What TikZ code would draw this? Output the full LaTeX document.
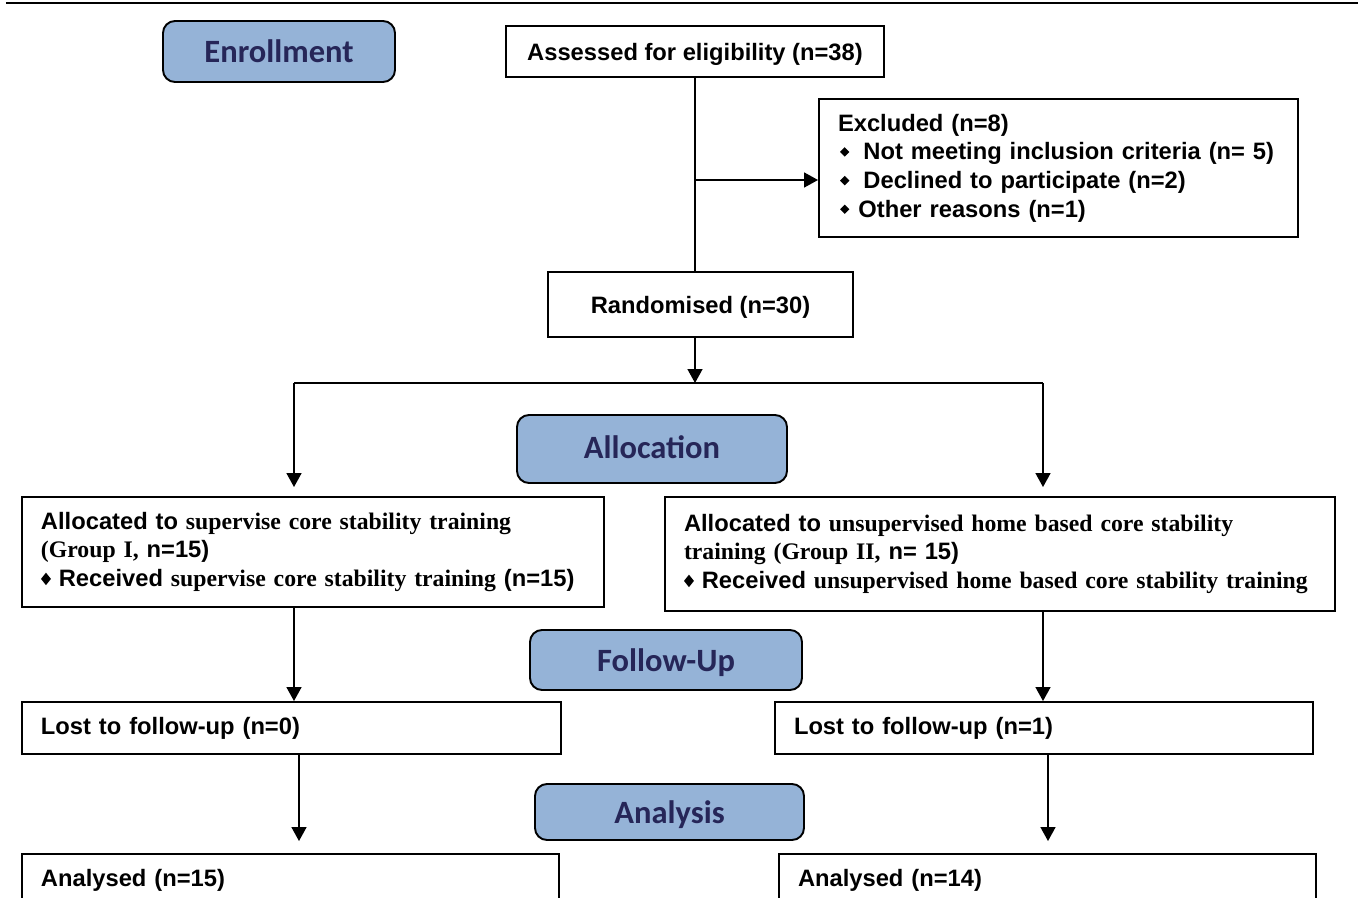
\documentclass[tikz,border=0pt]{standalone}
\usepackage{fontspec}
\setmainfont{Liberation Sans}
\newfontfamily\serifpart{Liberation Serif}
\newfontfamily\stagefont{Carlito}
\usetikzlibrary{arrows.meta}
\definecolor{stagefill}{RGB}{149,179,215}
\definecolor{stagetext}{RGB}{38,38,88}
\newcommand{\dmd}[3]{\raisebox{#3}{\scalebox{1}[#2]{\rotatebox{45}{\rule{#1}{#1}}}}}

\begin{document}
\begin{tikzpicture}[
  box/.style={draw, line width=1.1pt, align=left, inner xsep=0.38cm,
    font=\fontsize{13.5}{16.3}\selectfont\bfseries},
  stage/.style={draw, line width=1.1pt, rounded corners=0.24cm, fill=stagefill,
    text=stagetext, text depth=0pt, font=\fontsize{18.5}{22}\selectfont\stagefont\bfseries},
  arr/.style={-{Triangle[length=0.28cm,width=0.30cm]}, line width=0.9pt},
  ln/.style={line width=0.9pt}]
\useasboundingbox (0,0) rectangle (27.16,-17.96);
\draw[line width=1.4pt] (0.12,-0.06) -- (27.16,-0.06);

\node[stage, minimum width=4.64cm, minimum height=1.22cm] (enrol) at (5.58,-1.03) {Enrollment};
\node[stage, minimum width=5.40cm, minimum height=1.36cm, text depth=0.2em] (alloc) at (13.04,-8.98) {Allocation};
\node[stage, minimum width=5.44cm, minimum height=1.20cm] (follow) at (13.32,-13.20) {Follow-Up};
\node[stage, minimum width=5.38cm, minimum height=1.12cm] (analys) at (13.39,-16.24) {Analysis};

\node[box, minimum width=7.56cm, minimum height=1.02cm, text depth=0pt] (assess) at (13.90,-1.03) {Assessed for eligibility (n=38)};
\node[box, text width=8.82cm, minimum height=2.76cm] (excl) at (21.17,-3.36)
  {Excluded (n=8)\\
   \hspace{0.04cm}\dmd{3.8pt}{1}{0.25ex}\hspace{0.28cm}Not meeting inclusion criteria (n= 5)\\
   \hspace{0.04cm}\dmd{3.8pt}{1}{0.25ex}\hspace{0.28cm}Declined to participate (n=2)\\
   \hspace{0.04cm}\dmd{3.8pt}{1}{0.25ex}\hspace{0.18cm}Other reasons (n=1)};
\node[box, minimum width=6.10cm, minimum height=1.30cm, text depth=0pt] (random) at (14.01,-6.09) {Randomised (n=30)};

\node[box, text width=10.88cm, minimum height=2.20cm] (grpA) at (6.26,-11.04)
  {Allocated to {\serifpart supervise core stability training}\\
   {\serifpart (Group I,} n=15)\\
   \dmd{4pt}{1.25}{0.12ex}\ Received {\serifpart supervise core stability training} (n=15)};
\node[box, text width=12.64cm, minimum height=2.28cm] (grpB) at (20.00,-11.08)
  {Allocated to {\serifpart unsupervised home based core stability}\\
   {\serifpart training (Group II,} n= 15)\\
   \dmd{4pt}{1.25}{0.12ex}\ Received {\serifpart unsupervised home based core stability training}};

\node[box, text width=10.02cm, minimum height=1.04cm] (lostA) at (5.83,-14.56) {Lost to follow-up (n=0)};
\node[box, text width=10.00cm, minimum height=1.04cm] (lostB) at (20.88,-14.56) {Lost to follow-up (n=1)};
\node[box, text width=9.98cm, minimum height=1.04cm] (anaA) at (5.81,-17.60) {Analysed (n=15)};
\node[box, text width=9.98cm, minimum height=1.04cm] (anaB) at (20.95,-17.60) {Analysed (n=14)};

\coordinate (tap) at (13.90,-3.60);
\coordinate (split) at (13.90,-7.66);
\coordinate (splitL) at (5.88,-7.66);
\coordinate (splitR) at (20.86,-7.66);
\coordinate (dropL) at (5.98,-15.5);
\coordinate (dropR) at (20.96,-15.5);

\draw[ln] (assess.south) -- (tap) -- (tap |- random.north);
\draw[arr] (tap) -- (tap -| excl.west);
\draw[arr] (tap |- random.south) -- (split);
\draw[ln] (splitL) -- (splitR);
\draw[arr, shorten >=0.18cm] (splitL) -- (splitL |- grpA.north);
\draw[arr, shorten >=0.18cm] (splitR) -- (splitR |- grpB.north);
\draw[arr] (grpA.south -| splitL) -- (splitL |- lostA.north);
\draw[arr] (grpB.south -| splitR) -- (splitR |- lostB.north);
\draw[arr, shorten >=0.24cm] (lostA.south -| dropL) -- (dropL |- anaA.north);
\draw[arr, shorten >=0.24cm] (lostB.south -| dropR) -- (dropR |- anaB.north);
\end{tikzpicture}
\end{document}
